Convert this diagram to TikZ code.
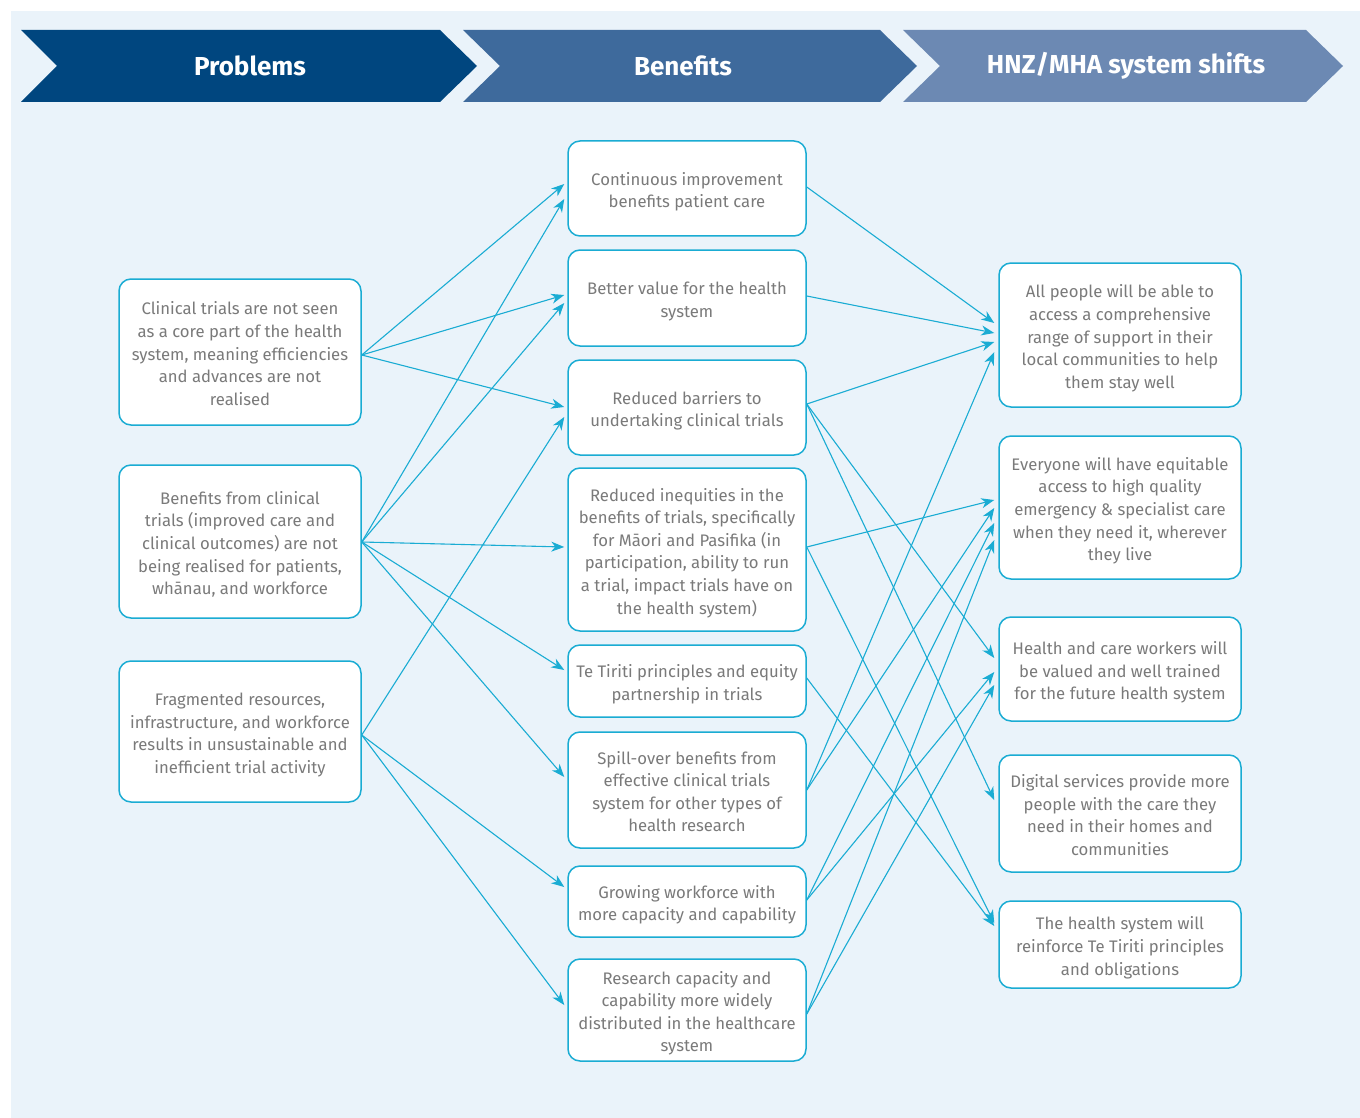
\documentclass[tikz,border=0pt]{standalone}
\usepackage{fontspec}
\setmainfont{Fira Sans}
\usetikzlibrary{arrows.meta}
\definecolor{bgblue}{HTML}{EAF3FA}
\definecolor{chevA}{HTML}{00467F}
\definecolor{chevB}{HTML}{3E6A9C}
\definecolor{chevC}{HTML}{6C89B3}
\definecolor{cyanline}{HTML}{1AACD3}
\definecolor{txtgrey}{HTML}{7A7A7A}
\newcommand\boxlines[1]{\raisebox{-3.5pt}[\height][\depth]{\begin{tabular}{@{}c@{}}#1\end{tabular}}}
\begin{document}
\begin{tikzpicture}[x=1pt,y=-1pt,
  box/.style={draw=cyanline, line width=1.5pt, fill=white, rounded corners=12pt,
    text=txtgrey, font=\fontsize{16.7}{22.6}\selectfont, inner sep=0pt},
  lbox/.style={box, minimum width=242pt},
  mbox/.style={box, minimum width=238pt},
  rbox/.style={box, minimum width=242pt},
  conn/.style={draw=cyanline, line width=1.1pt, -{Stealth[length=13pt,width=10pt,inset=4pt]}},
  head/.style={text=white, font=\fontsize{26}{30}\selectfont\bfseries}]
\useasboundingbox (0,0) rectangle (1360,1118);
\fill[white] (0,0) rectangle (1360,1118);
\fill[bgblue] (11,11) rectangle (1360,1118);

% header chevrons
\fill[chevA] (21,30) -- (440,30) -- (477,66) -- (440,102) -- (21,102) -- (57,66) -- cycle;
\fill[chevB] (463,30) -- (880,30) -- (917,66) -- (880,102) -- (463,102) -- (500,66) -- cycle;
\fill[chevC] (903,30) -- (1306,30) -- (1343,66) -- (1306,102) -- (903,102) -- (940,66) -- cycle;
\node[head] (h1) at (250,66) {Problems};
\node[head] (h2) at (683,66) {Benefits};
\node[head] (h3) at (1126,66) {HNZ/MHA system shifts};

% Problems
\node[lbox, minimum height=146pt] (P1) at (240,352) {\boxlines{Clinical trials are not seen\\as a core part of the health\\system, meaning efficiencies\\and advances are not\\realised}};
\node[lbox, minimum height=153pt] (P2) at (240,541.5) {\boxlines{Benefits from clinical\\trials (improved care and\\clinical outcomes) are not\\being realised for patients,\\whānau, and workforce}};
\node[lbox, minimum height=141pt] (P3) at (240,731.5) {\boxlines{Fragmented resources,\\infrastructure, and workforce\\results in unsustainable and\\inefficient trial activity}};

% Benefits
\node[mbox, minimum height=95pt] (B1) at (687,188.5) {\boxlines{Continuous improvement\\benefits patient care}};
\node[mbox, minimum height=96pt] (B2) at (687,298) {\boxlines{Better value for the health\\system}};
\node[mbox, minimum height=95pt] (B3) at (687,407.5) {\boxlines{Reduced barriers to\\undertaking clinical trials}};
\node[mbox, minimum height=163pt] (B4) at (687,549.5) {\boxlines{Reduced inequities in the\\benefits of trials, specifically\\for Māori and Pasifika (in\\participation, ability to run\\a trial, impact trials have on\\the health system)}};
\node[mbox, minimum height=72pt] (B5) at (687,681) {\boxlines{Te Tiriti principles and equity\\partnership in trials}};
\node[mbox, minimum height=116pt] (B6) at (687,790) {\boxlines{Spill-over benefits from\\effective clinical trials\\system for other types of\\health research}};
\node[mbox, minimum height=71pt] (B7) at (687,901.5) {\boxlines{Growing workforce with\\more capacity and capability}};
\node[mbox, minimum height=102pt] (B8) at (687,1010) {\boxlines{Research capacity and\\capability more widely\\distributed in the healthcare\\system}};

% System shifts
\node[rbox, minimum height=144pt] (S1) at (1120,335) {\boxlines{All people will be able to\\access a comprehensive\\range of support in their\\local communities to help\\them stay well}};
\node[rbox, minimum height=143pt] (S2) at (1120,507.5) {\boxlines{Everyone will have equitable\\access to high quality\\emergency \& specialist care\\when they need it, wherever\\they live}};
\node[rbox, minimum height=104pt] (S3) at (1120,669) {\boxlines{Health and care workers will\\be valued and well trained\\for the future health system}};
\node[rbox, minimum height=117pt] (S4) at (1120,813.5) {\boxlines{Digital services provide more\\people with the care they\\need in their homes and\\communities}};
\node[rbox, minimum height=87pt] (S5) at (1120,944.5) {\boxlines{The health system will\\reinforce Te Tiriti principles\\and obligations}};

% Problems -> Benefits
\draw[conn] ([yshift=-3pt]P1.east) -- ([xshift=-3pt,yshift=4.5pt]B1.west);
\draw[conn] ([yshift=-3pt]P1.east) -- ([xshift=-3pt,yshift=3pt]B2.west);
\draw[conn] ([yshift=-3pt]P1.east) -- ([xshift=-3pt,yshift=0.5pt]B3.west);
\draw[conn] ([yshift=-0.5pt]P2.east) -- ([xshift=-3pt,yshift=-10.5pt]B1.west);
\draw[conn] ([yshift=-0.5pt]P2.east) -- ([xshift=-3pt,yshift=-5pt]B2.west);
\draw[conn] ([yshift=-0.5pt]P2.east) -- ([xshift=-3pt,yshift=2.5pt]B4.west);
\draw[conn] ([yshift=-0.5pt]P2.east) -- ([xshift=-3pt,yshift=11pt]B5.west);
\draw[conn] ([yshift=-0.5pt]P2.east) -- ([xshift=-3pt,yshift=13pt]B6.west);
\draw[conn] ([yshift=-3.5pt]P3.east) -- ([xshift=-3pt,yshift=-9.5pt]B3.west);
\draw[conn] ([yshift=-3.5pt]P3.east) -- ([xshift=-3pt,yshift=14.5pt]B7.west);
\draw[conn] ([yshift=-3.5pt]P3.east) -- ([xshift=-3pt,yshift=5pt]B8.west);

% Benefits -> System shifts
\draw[conn] ([yshift=1.5pt]B1.east) -- ([xshift=-4pt,yshift=12pt]S1.west);
\draw[conn] ([yshift=2pt]B2.east) -- ([xshift=-4pt,yshift=2pt]S1.west);
\draw[conn] ([yshift=3.5pt]B3.east) -- ([xshift=-4pt,yshift=-7pt]S1.west);
\draw[conn] ([yshift=3.5pt]B3.east) -- ([xshift=-4pt,yshift=11pt]S3.west);
\draw[conn] ([yshift=3.5pt]B3.east) -- ([xshift=-4pt,yshift=13.5pt]S4.west);
\draw[conn] ([yshift=2.5pt]B4.east) -- ([xshift=-4pt,yshift=7.5pt]S2.west);
\draw[conn] ([yshift=2.5pt]B4.east) -- ([xshift=-4pt,yshift=21.5pt]S5.west);
\draw[conn] ([yshift=3pt]B5.east) -- ([xshift=-4pt,yshift=18.5pt]S5.west);
\draw[conn] (B6.east) -- ([xshift=-4pt,yshift=-17pt]S1.west);
\draw[conn] (B6.east) -- ([xshift=-4pt,yshift=-0.5pt]S2.west);
\draw[conn] ([yshift=1.5pt]B7.east) -- ([xshift=-4pt,yshift=-15.5pt]S2.west);
\draw[conn] ([yshift=1.5pt]B7.east) -- ([xshift=-4pt,yshift=-3pt]S3.west);
\draw[conn] ([yshift=-4pt]B8.east) -- ([xshift=-4pt,yshift=-32.5pt]S2.west);
\draw[conn] ([yshift=-4pt]B8.east) -- ([xshift=-4pt,yshift=-16pt]S3.west);
\end{tikzpicture}
\end{document}
